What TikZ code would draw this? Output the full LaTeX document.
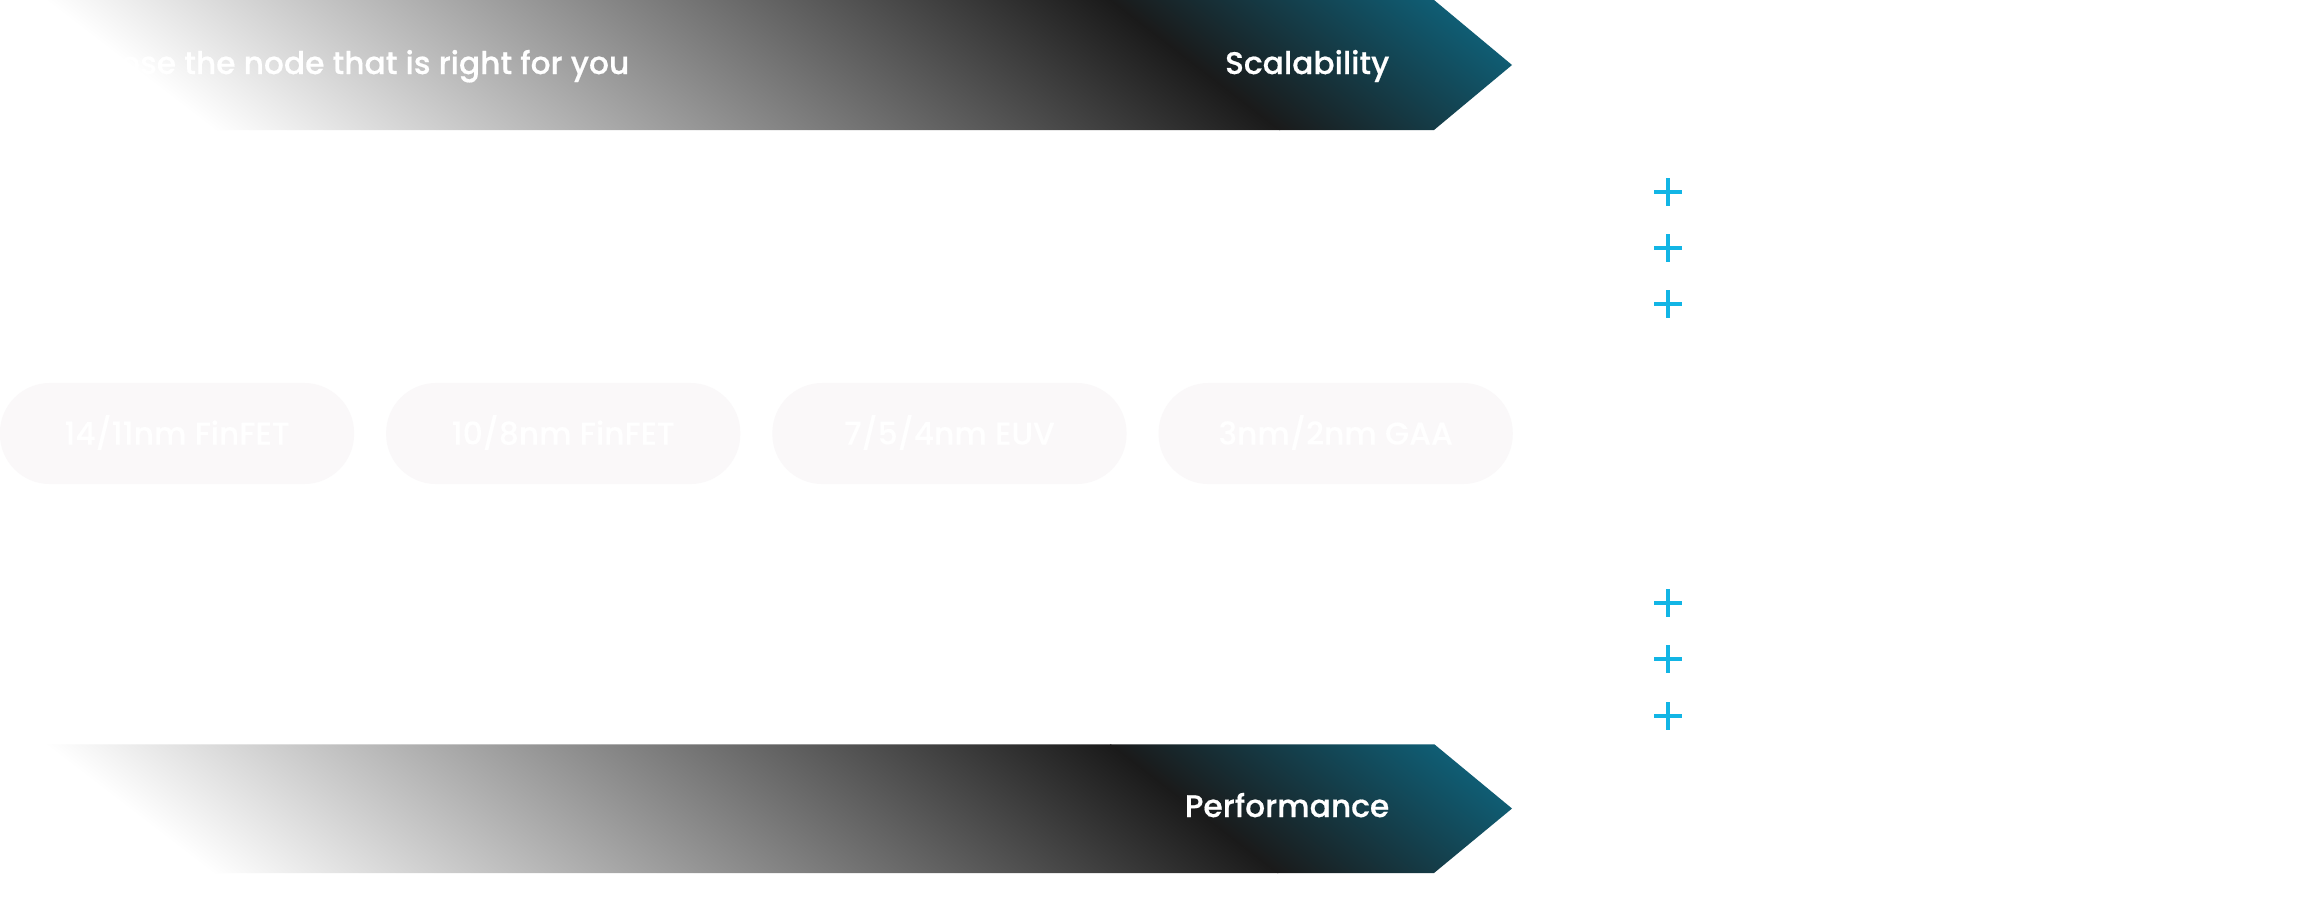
\documentclass[tikz,border=0pt]{standalone}
\usepackage{fontspec}
\newfontfamily\labelfont{Poppins}[UprightFont=* Medium, FakeBold=0.5]
\usetikzlibrary{positioning}
\definecolor{bandblack}{HTML}{1A1A1A}
\definecolor{bandteal}{HTML}{0F6179}
\definecolor{pillgray}{HTML}{FAF8F9}
\definecolor{pluscyan}{HTML}{12B5E5}
\tikzset{
  labeltext/.style={text=white, inner sep=0pt, font=\labelfont\fontsize{8.9}{11}\selectfont},
  bannertext/.style={labeltext, anchor=base east},
  pill/.style={labeltext, fill=pillgray, rounded corners=0.5cm, outer sep=0pt,
    minimum width=3.54cm, minimum height=1.01cm, text height=0.22cm, text depth=0pt},
  plussign/.style={draw=pluscyan, line width=0.035cm},
}
% gradient of one banner, drawn in its own slanted frame
\newcommand{\bannerfill}{%
  \fill[white] (-300,0) rectangle (46,130);
  \shade[left color=white, right color=bandblack] (45,0) rectangle (1111,130);
  \shade[left color=bandblack, right color=bandteal] (1110,0) rectangle (1451,130);
  \fill[bandteal] (1450,0) rectangle (1800,130);
}
\begin{document}
\begin{tikzpicture}[x=0.01cm, y=-0.01cm]
    \fill[white] (0,0) rectangle (2312,896);
    \useasboundingbox (0,0) rectangle (2312,896);
    % top banner
    \begin{scope}
        \clip (0,0) -- (1434,0) -- (1512,65) -- (1434,130) -- (0,130) -- cycle;
        \begin{scope}[transform canvas={xslant=-1.3}]
            \bannerfill
        \end{scope}
    \end{scope}
    % bottom banner
    \begin{scope}
        \clip (0,744) -- (1434,744) -- (1512,808.5) -- (1434,873) -- (0,873) -- cycle;
        \begin{scope}[transform canvas={yshift=-7.44cm, xslant=-1.3}]
            \bannerfill
        \end{scope}
    \end{scope}
    % banner labels
    \node[bannertext] (choose) at (630,74) {Choose the node that is right for you};
    \node[bannertext] (scal) at (1390,74) {Scalability};
    \node[bannertext] (perf) at (1390,817) {Performance};
    % process nodes
    \node[pill] (n14) at (177,433.5) {14/11nm FinFET};
    \node[pill, right=0.32cm of n14] (n10) {10/8nm FinFET};
    \node[pill, right=0.32cm of n10] (n7) {7/5/4nm EUV};
    \node[pill, right=0.32cm of n7] (n3) {3nm/2nm GAA};
    % plus signs
    \foreach \y in {192,248,304,603,659,716}
        \draw[plussign] (1654,\y) -- (1682,\y) (1668,{\y-14}) -- (1668,{\y+14});
\end{tikzpicture}
\end{document}
